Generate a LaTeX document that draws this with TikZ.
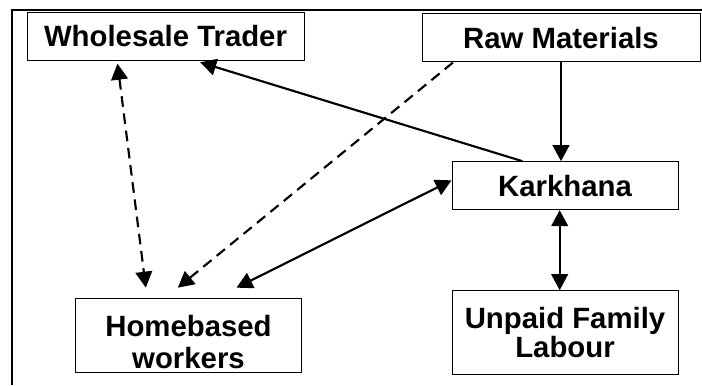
\documentclass[tikz,border=0pt]{standalone}
\usepackage{fontspec}
\setmainfont{Liberation Sans}
\usetikzlibrary{arrows.meta, positioning}
\tikzset{
	actor/.style={rectangle, draw=black, line width=0.75pt, align=center, inner sep=2pt, font=\bfseries\fontsize{22}{22}\selectfont},
	link/.style={-{Triangle[length=12pt, width=12.5pt]}, line width=1.6pt},
	duallink/.style={{Triangle[length=12pt, width=12.5pt]}-{Triangle[length=12pt, width=12.5pt]}, line width=1.6pt},
	softlink/.style={link, dash pattern=on 8pt off 5pt},
	softduallink/.style={duallink, dash pattern=on 8pt off 5pt},
	frame/.style={line width=1.5pt},
}

\begin{document}
\begin{tikzpicture}[x=0.75pt, y=-0.75pt]
		\useasboundingbox (0,0) rectangle (702,385);
		\draw[frame] (12,385) -- (12,10) -- (702,10);
		\node[actor, minimum width=207.75pt, minimum height=36pt] (trader) at (165.5,36.5) {Wholesale Trader};
		\node[actor, minimum width=208.5pt, minimum height=36pt] (raw) at (561,38) {Raw Materials};
		\node[actor, minimum width=169.5pt, minimum height=36pt, below=74pt of raw, xshift=3pt] (karkhana) {Karkhana};
		\node[actor, minimum width=169.5pt, minimum height=63pt, below=60pt of karkhana] (unpaid) {Unpaid Family\\Labour};
		\node[actor, minimum width=170pt, minimum height=55pt, font=\bfseries\fontsize{22}{24}\selectfont] (home) at (188.5,335.5) {\rule{0pt}{25pt}Homebased\\workers};
		\draw[link] (raw.south) -- (raw.south |- karkhana.north);
		\draw[link] ([xshift=-32pt]karkhana.north) -- ([xshift=26pt,yshift=-1pt]trader.south);
		\draw[softlink] ([xshift=-81pt]raw.south) -- ([xshift=-8pt,yshift=8pt]home.north);
		\draw[softduallink] ([xshift=-36pt,yshift=-2pt]trader.south) -- ([xshift=-32pt,yshift=8pt]home.north);
		\draw[duallink] ([yshift=4pt]karkhana.west) -- ([xshift=36pt,yshift=8pt]home.north);
		\draw[duallink] ([xshift=-4pt]karkhana.south) -- ([xshift=-4pt]unpaid.north);
	\end{tikzpicture}
\end{document}
